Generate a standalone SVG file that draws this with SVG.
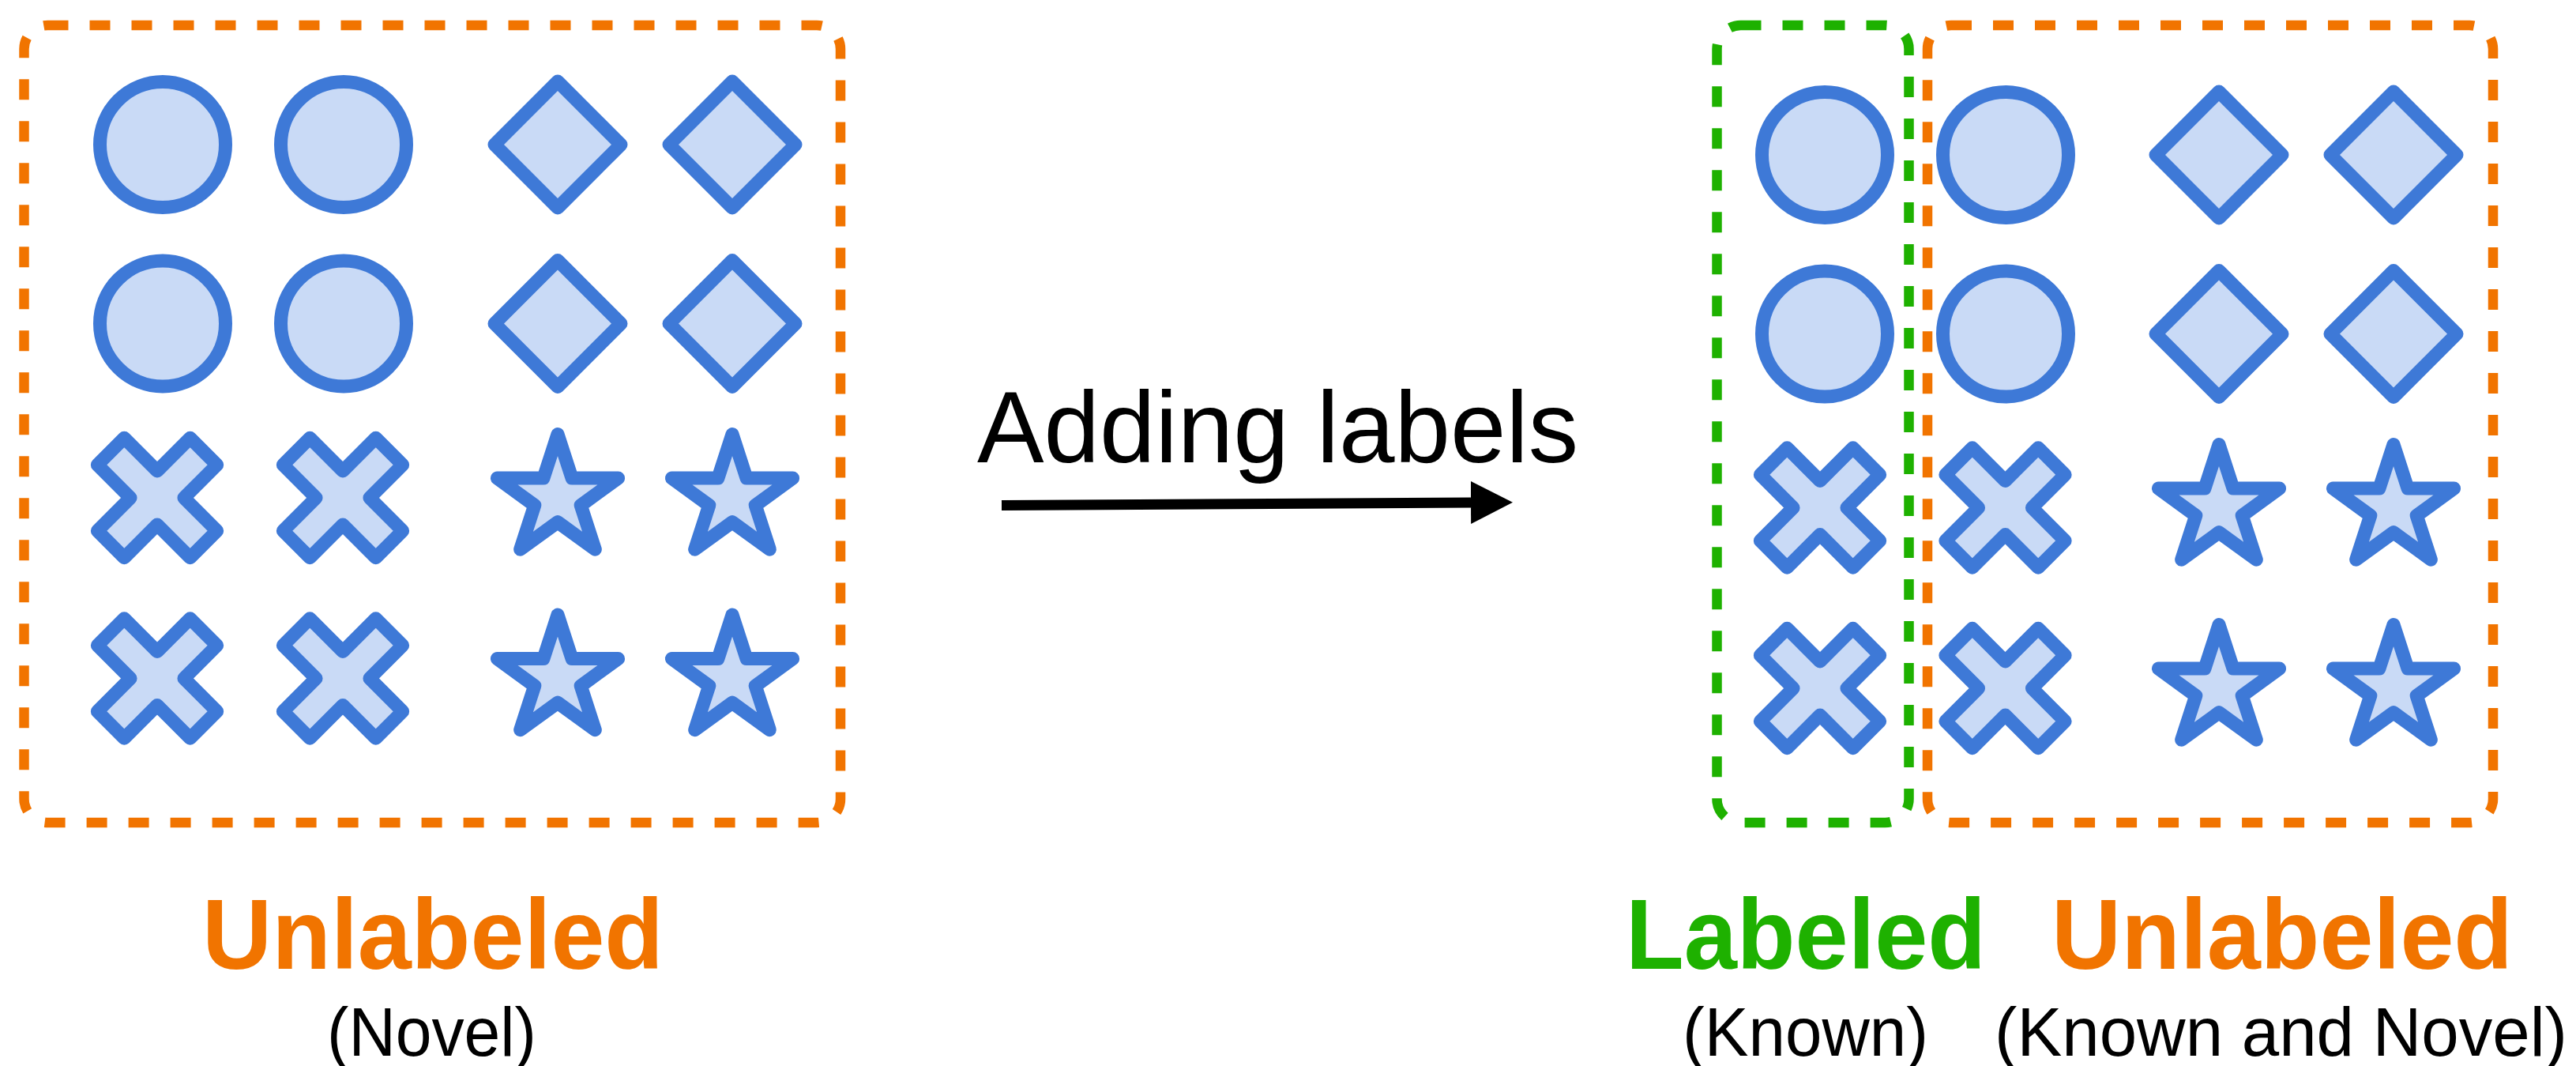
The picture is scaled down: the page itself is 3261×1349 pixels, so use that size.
<svg xmlns="http://www.w3.org/2000/svg" xmlns:xlink="http://www.w3.org/1999/xlink" width="3261" height="1349" viewBox="0 0 3261 1349">
  <style>
    .shape { fill: #C9DAF6; stroke: #3E79D7; stroke-width: 17; stroke-linejoin: round; }
    .box { fill: none; stroke-width: 12.5; stroke-dasharray: 26 27; }
    .orange { stroke: #F17400; }
    .green { stroke: #1EB100; }
    .title { font-family: "Liberation Sans", Arial, Helvetica, sans-serif; font-weight: bold; font-size: 126px; text-anchor: middle; }
    .sub { font-family: "Liberation Sans", Arial, Helvetica, sans-serif; font-size: 87px; fill: #000; text-anchor: middle; }
    .caption { font-family: "Liberation Sans", Arial, Helvetica, sans-serif; font-size: 128px; fill: #000; }
  </style>
  <defs>
    <!-- sample shapes, centred on the origin -->
    <circle id="circ" class="shape" r="79.5"/>
    <path id="diam" class="shape" d="M0,-80 L80,0 L0,80 L-80,0 Z"/>
    <path id="cross" class="shape" transform="rotate(45)" d="M24,-83 L24,-24 L83,-24 L83,24 L24,24 L24,83 L-24,83 L-24,24 L-83,24 L-83,-24 L-24,-24 L-24,-83 Z"/>
    <path id="star" class="shape" d="M0,-80.5 L18.07,-24.88 L76.56,-24.88 L29.25,9.5 L47.32,65.13 L0,30.75 L-47.32,65.13 L-29.25,9.5 L-76.56,-24.88 L-18.07,-24.88 Z"/>
    <marker id="head" markerUnits="userSpaceOnUse" viewBox="0 0 53 54" markerWidth="53" markerHeight="54" refX="0" refY="27" orient="auto">
      <path d="M0,0 L53,27 L0,54 Z" fill="#000"/>
    </marker>
  </defs>

  <rect width="3261" height="1349" fill="#fff"/>

  <!-- Unlabeled set (before) -->
  <g id="unlabeled-before">
    <rect class="box orange" x="30.5" y="32" width="1033.5" height="1009" rx="30" ry="30"/>
    <use xlink:href="#circ" x="206" y="183"/>
    <use xlink:href="#circ" x="435" y="183"/>
    <use xlink:href="#diam" x="706" y="183"/>
    <use xlink:href="#diam" x="927" y="183"/>
    <use xlink:href="#circ" x="206" y="409.5"/>
    <use xlink:href="#circ" x="435" y="409.5"/>
    <use xlink:href="#diam" x="706" y="409.5"/>
    <use xlink:href="#diam" x="927" y="409.5"/>
    <use xlink:href="#cross" x="199" y="630"/>
    <use xlink:href="#cross" x="434" y="630"/>
    <use xlink:href="#star" x="706" y="630"/>
    <use xlink:href="#star" x="927" y="630"/>
    <use xlink:href="#cross" x="199" y="858.5"/>
    <use xlink:href="#cross" x="434" y="858.5"/>
    <use xlink:href="#star" x="706" y="858.5"/>
    <use xlink:href="#star" x="927" y="858.5"/>
    <text class="title" x="548" y="1226" fill="#F17400" textLength="584" lengthAdjust="spacingAndGlyphs">Unlabeled</text>
    <text class="sub" x="546.5" y="1336" textLength="265" lengthAdjust="spacingAndGlyphs">(Novel)</text>
  </g>

  <!-- Labeled set (after) -->
  <g id="labeled-after">
    <rect class="box green" x="2173.5" y="32" width="243" height="1009" rx="30" ry="30"/>
    <use xlink:href="#circ" x="2310" y="196"/>
    <use xlink:href="#circ" x="2310" y="422.5"/>
    <use xlink:href="#cross" x="2304" y="642.5"/>
    <use xlink:href="#cross" x="2304" y="871"/>
    <text class="title" x="2286" y="1226" fill="#1EB100" textLength="456" lengthAdjust="spacingAndGlyphs">Labeled</text>
    <text class="sub" x="2285.5" y="1336" textLength="311" lengthAdjust="spacingAndGlyphs">(Known)</text>
  </g>

  <!-- Unlabeled set (after) -->
  <g id="unlabeled-after">
    <rect class="box orange" x="2440" y="32" width="716" height="1009" rx="30" ry="30"/>
    <use xlink:href="#circ" x="2539" y="196"/>
    <use xlink:href="#diam" x="2809" y="196"/>
    <use xlink:href="#diam" x="3030" y="196"/>
    <use xlink:href="#circ" x="2539" y="422.5"/>
    <use xlink:href="#diam" x="2809" y="422.5"/>
    <use xlink:href="#diam" x="3030" y="422.5"/>
    <use xlink:href="#cross" x="2538.5" y="642.5"/>
    <use xlink:href="#star" x="2809" y="643"/>
    <use xlink:href="#star" x="3030" y="643"/>
    <use xlink:href="#cross" x="2538.5" y="871"/>
    <use xlink:href="#star" x="2809" y="871"/>
    <use xlink:href="#star" x="3030" y="871"/>
    <text class="title" x="2889" y="1226" fill="#F17400" textLength="584" lengthAdjust="spacingAndGlyphs">Unlabeled</text>
    <text class="sub" x="2887.5" y="1336" textLength="725" lengthAdjust="spacingAndGlyphs">(Known and Novel)</text>
  </g>

  <!-- transition arrow -->
  <g id="connectors">
    <line x1="1268" y1="639.5" x2="1862" y2="636" stroke="#000" stroke-width="13" marker-end="url(#head)"/>
    <text class="caption" x="1237" y="585" textLength="761" lengthAdjust="spacingAndGlyphs">Adding labels</text>
  </g>
</svg>
